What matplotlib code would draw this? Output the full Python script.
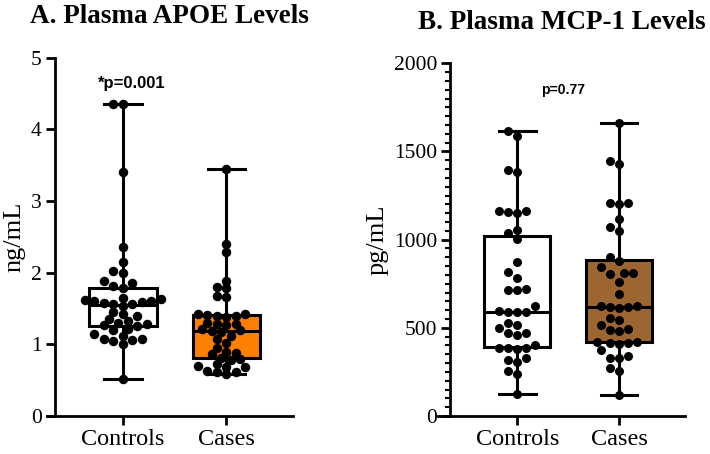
import numpy as np
import matplotlib
matplotlib.use('Agg')
import matplotlib.pyplot as plt
from matplotlib.ticker import MultipleLocator

# Daten
groups = ['Controls', 'Cases']

apoe_controls = [4.36, 4.35, 3.41, 2.36, 2.15, 2.02, 2.00, 1.88, 1.86, 1.82,
                 1.78, 1.65, 1.63, 1.62, 1.61, 1.60, 1.59, 1.58, 1.57, 1.56,
                 1.54, 1.45, 1.43, 1.40, 1.36, 1.33, 1.30, 1.28, 1.27, 1.26,
                 1.22, 1.20, 1.15, 1.12, 1.08, 1.07, 1.06, 1.05, 1.00, 0.52]
apoe_cases = [3.45, 2.40, 2.29, 1.89, 1.80, 1.78, 1.68, 1.66, 1.43, 1.42,
              1.41, 1.40, 1.39, 1.38, 1.30, 1.29, 1.28, 1.27, 1.21, 1.20,
              1.18, 1.17, 1.12, 1.08, 1.02, 0.95, 0.90, 0.88, 0.86, 0.81,
              0.79, 0.78, 0.72, 0.70, 0.69, 0.68, 0.63, 0.62, 0.61, 0.58]

mcp_controls = [1618, 1587, 1395, 1386, 1163, 1163, 1155, 1153, 1055, 1036,
                1002, 871, 818, 781, 720, 715, 715, 624, 595, 592,
                590, 588, 526, 516, 497, 469, 469, 459, 400, 388,
                385, 384, 382, 327, 318, 308, 257, 238, 123]
mcp_cases = [1660, 1448, 1429, 1210, 1210, 1202, 1115, 1070, 1051, 904,
             880, 847, 813, 813, 805, 762, 692, 625, 622, 620,
             618, 615, 554, 544, 516, 491, 488, 484, 420, 418,
             415, 412, 410, 374, 340, 330, 327, 270, 257, 119]

titles = ['A. Plasma APOE Levels', 'B. Plasma MCP-1 Levels']
ylabels = ['ng/mL', 'pg/mL']
pvals = ['*p=0.001', 'p=0.77']
case_colors = ['#ff8000', '#9c6633']

SERIF = 'Liberation Serif'
SANS = 'Liberation Sans'
DPI = 100


def swarm_x(ax, vals, center, d, gap):
    # einfache Beeswarm-Anordnung in Pixelkoordinaten
    trans = ax.transData
    inv = trans.inverted()
    cx = trans.transform((center, 0))[0]
    placed = []
    xs = np.zeros(len(vals))
    for i in np.argsort(vals):
        py = trans.transform((center, vals[i]))[1]
        px = cx
        for k in range(80):
            found = False
            for sgn in ([0] if k == 0 else [-1, 1]):
                cand = cx + sgn * k * d * 0.5
                if all((cand - qx) ** 2 + (py - qy) ** 2 >= (d * gap) ** 2 for qx, qy in placed):
                    px = cand
                    found = True
                    break
            if found:
                break
        placed.append((px, py))
        xs[i] = inv.transform((px, py))[0]
    return xs


fig = plt.figure(figsize=(7.1, 4.54), dpi=DPI)
ax1 = fig.add_axes([0.0658, 0.0837, 0.347, 0.789])
ax2 = fig.add_axes([0.617, 0.0837, 0.348, 0.7769])

panels = [
    (ax1, [apoe_controls, apoe_cases], (0, 5), 1, None, 4.64, 0.08, case_colors[0], 9.5, 0.82),
    (ax2, [mcp_controls, mcp_cases], (0, 2000), 500, 50, 1848, 0.45, case_colors[1], 9.0, 1.0),
]

for k, (ax, data, ylim, major, minor, py, px, ccol, dot, gap) in enumerate(panels):
    xleft = -0.74 if k == 0 else -0.78
    ax.set_xlim(xleft, 1.65)
    ax.set_ylim(*ylim)

    bp = ax.boxplot(data, positions=[0, 1], widths=0.65, whis=(0, 100),
                    patch_artist=True, showfliers=False, capwidths=0.36,
                    medianprops=dict(color='black', lw=2.2),
                    boxprops=dict(color='black', lw=2.2),
                    whiskerprops=dict(color='black', lw=2.2),
                    capprops=dict(color='black', lw=2.2))
    bp['boxes'][0].set_facecolor('white')
    bp['boxes'][1].set_facecolor(ccol)
    for art in bp['boxes'] + bp['medians'] + bp['whiskers'] + bp['caps']:
        art.set_zorder(2)

    for pos, vals in enumerate(data):
        xs = swarm_x(ax, np.array(vals, dtype=float), pos, dot, gap)
        ax.scatter(xs, vals, s=(dot * 72 / DPI) ** 2, color='black',
                   linewidths=0, zorder=3)

    for side in ['top', 'right']:
        ax.spines[side].set_visible(False)
    ax.spines['left'].set_position(('data', -0.66))
    ax.spines['left'].set_linewidth(2)
    ax.spines['bottom'].set_linewidth(2)

    ax.set_xticks([0, 1])
    ax.set_xticklabels(groups, fontfamily=SERIF, fontsize=17.5)
    ax.yaxis.set_major_locator(MultipleLocator(major))
    if minor:
        ax.yaxis.set_minor_locator(MultipleLocator(minor))
    ax.tick_params(axis='both', which='major', direction='out', length=6.5,
                   width=2, pad=3)
    ax.tick_params(axis='y', labelsize=15.5)
    ax.tick_params(axis='y', which='minor', direction='out', length=3.5, width=1.5)
    ax.tick_params(axis='x', pad=3)
    for lab in ax.get_yticklabels():
        lab.set_fontfamily(SERIF)

    ax.set_ylabel(ylabels[k], fontfamily=SERIF, fontsize=19, labelpad=4)
    ax.set_title(titles[k], fontfamily=SERIF, fontweight='bold', fontsize=19.5, pad=25)
    ax.text(px, py, pvals[k], fontfamily=SANS, fontweight='bold', fontsize=12 if k == 0 else 10,
            ha='center', va='center')

fig.savefig('out.png', dpi=DPI)
